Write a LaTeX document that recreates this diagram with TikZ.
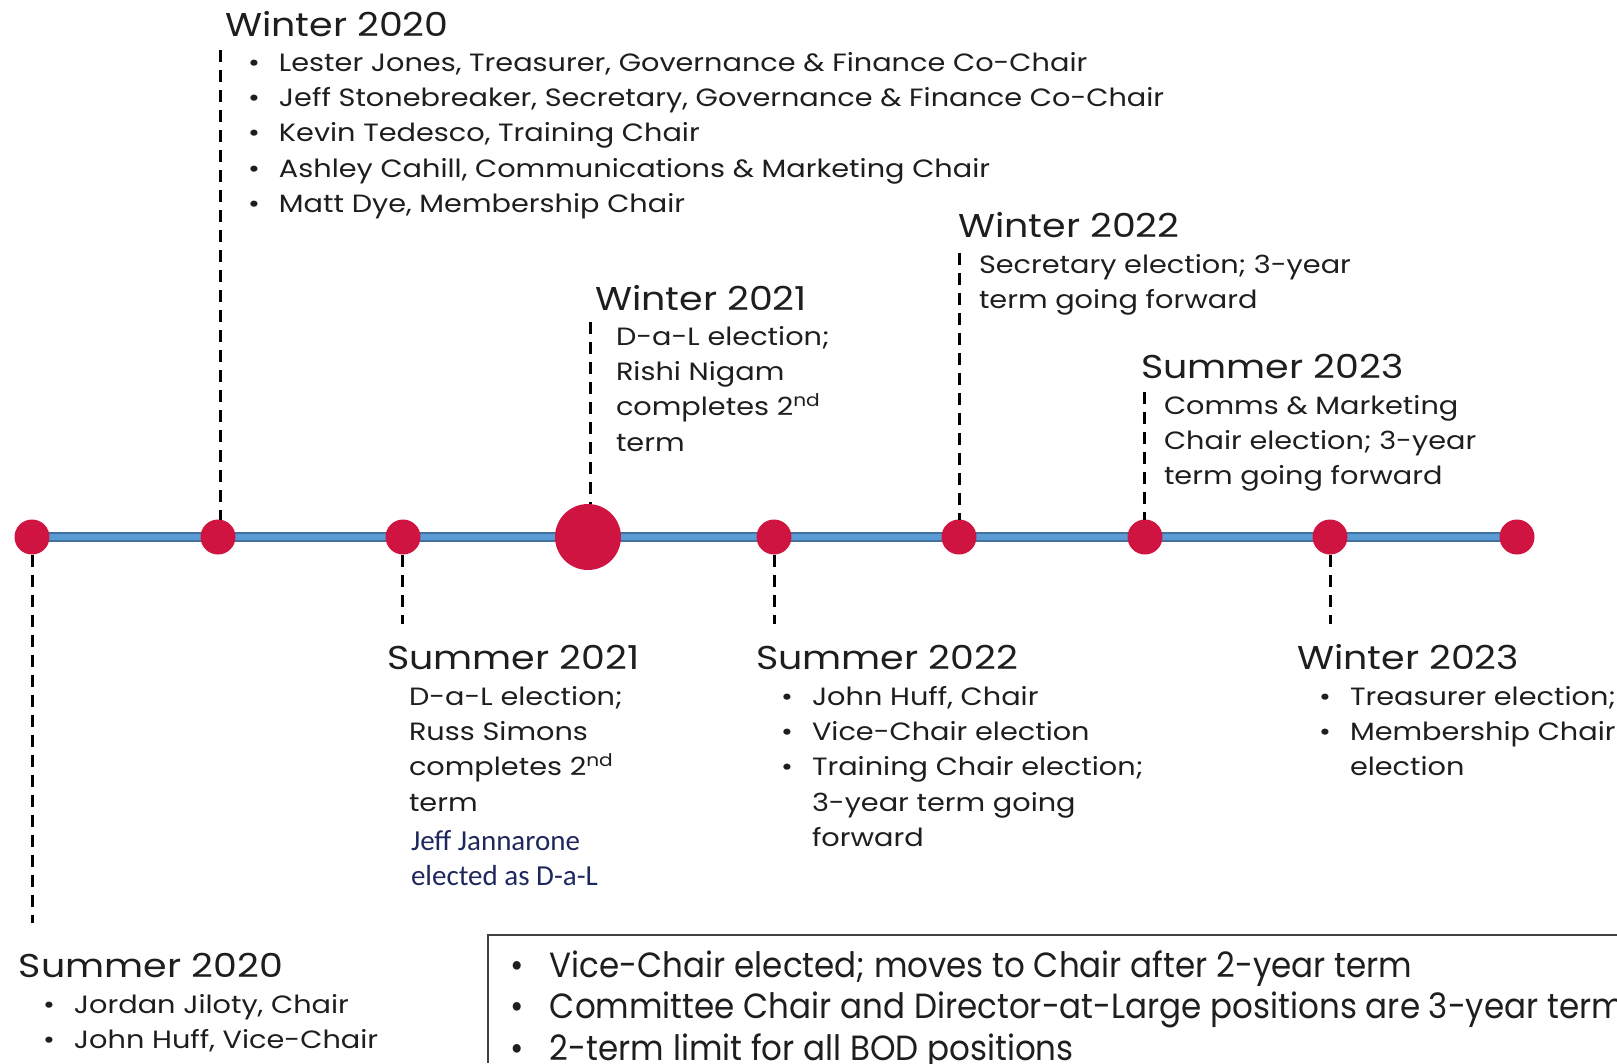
\documentclass[tikz,border=0pt]{standalone}
\usepackage{fontspec}
\setmainfont{Poppins}[FakeStretch=1.15]
\newfontfamily\boxfont[FakeStretch=0.93]{Poppins}
\newfontfamily\notefont{Carlito}
\usetikzlibrary{backgrounds}

\definecolor{ink}{RGB}{30,30,30}
\definecolor{dotred}{RGB}{208,20,66}
\definecolor{railfill}{RGB}{91,155,213}
\definecolor{railedge}{RGB}{65,113,156}
\definecolor{notenavy}{RGB}{31,40,94}
\definecolor{frame}{RGB}{64,64,64}

% bullet cells of fixed width
\newcommand\bl{\makebox[31pt][l]{•}}
\newcommand\nb{\hspace*{31pt}}
\newcommand\bbl{\makebox[40pt][l]{•}}

\begin{document}
\begin{tikzpicture}[x=1pt,y=-1pt,
  every node/.style={inner sep=0pt, outer sep=0pt, text=ink},
  heading/.style={anchor=base west, font=\fontsize{33}{40}\selectfont},
  body/.style={anchor=base west, font=\fontsize{25}{35.4}\selectfont},
  note/.style={anchor=base west, text=notenavy, font=\notefont\fontsize{29}{35.4}\selectfont},
  boxtext/.style={anchor=base west, font=\boxfont\fontsize{35}{41.5}\selectfont},
  dot/.style={circle, fill=dotred, minimum size=35pt},
  bigdot/.style={circle, fill=dotred, minimum size=66pt},
  guide/.style={draw=black, line width=3pt, dash pattern=on 12pt off 8pt},
]
\useasboundingbox (0,0) rectangle (1617,1063);

% timeline dots
\node[dot]    (d1) at (32,537)   {};
\node[dot]    (d2) at (218,537)  {};
\node[dot]    (d3) at (403,537)  {};
\node[bigdot] (d4) at (588,537)  {};
\node[dot]    (d5) at (774,537)  {};
\node[dot]    (d6) at (959,537)  {};
\node[dot]    (d7) at (1145,537) {};
\node[dot]    (d8) at (1330,537) {};
\node[dot]    (d9) at (1517,537) {};

% the rail behind the dots
\begin{pgfonlayer}{background}
  \draw[railedge, line width=10pt] (d1.center) -- (d9.center);
  \draw[railfill, line width=6.5pt] (d1.center) -- (d9.center);
\end{pgfonlayer}

% free ends of the dashed guides
\coordinate (g1) at (32,923);
\coordinate (g2) at (220,50);
\coordinate (g3) at (402,624);
\coordinate (g4) at (590,322);
\coordinate (g5) at (774,624);
\coordinate (g6) at (959,253);
\coordinate (g7) at (1144,392);
\coordinate (g8) at (1330,624);

\draw[guide] (g1 |- d1.south) -- (g1);
\draw[guide] (g2) -- (g2 |- d2.north);
\draw[guide] (g3 |- d3.south) -- (g3);
\draw[guide] (g4) -- (g4 |- d4.north);
\draw[guide] (g5 |- d5.south) -- (g5);
\draw[guide] (g6) -- (g6 |- d6.north);
\draw[guide] (g7) -- (g7 |- d7.north);
\draw[guide] (g8 |- d8.south) -- (g8);

% Summer 2020
\node[heading] (s20h) at (19,977) {Summer 2020};
\node[body] (s20b) at (43,1013) {\begin{tabular}[t]{@{}l@{}}
\bl Jordan Jiloty, Chair\\
\bl John Huff, Vice-Chair
\end{tabular}};

% Winter 2020
\node[heading] (w20h) at (225,36) {Winter 2020};
\node[body] (w20b) at (248,71) {\begin{tabular}[t]{@{}l@{}}
\bl Lester Jones, Treasurer, Governance \& Finance Co-Chair\\
\bl Jeff Stonebreaker, Secretary, Governance \& Finance Co-Chair\\
\bl Kevin Tedesco, Training Chair\\
\bl Ashley Cahill, Communications \& Marketing Chair\\
\bl Matt Dye, Membership Chair
\end{tabular}};

% Summer 2021
\node[heading] (s21h) at (387,669) {Summer 2021};
\node[body] (s21b) at (409,705) {\begin{tabular}[t]{@{}l@{}}
D-a-L election;\\
Russ Simons\\
completes 2\textsuperscript{nd}\\
term
\end{tabular}};
\node[note] (s21n) at (411,850) {\begin{tabular}[t]{@{}l@{}}
Jeff Jannarone\\
elected as D-a-L
\end{tabular}};

% Winter 2021
\node[heading] (w21h) at (595,310) {Winter 2021};
\node[body] (w21b) at (616,345) {\begin{tabular}[t]{@{}l@{}}
D-a-L election;\\
Rishi Nigam\\
completes 2\textsuperscript{nd}\\
term
\end{tabular}};

% Summer 2022
\node[heading] (s22h) at (756,669) {Summer 2022};
\node[body] (s22b) at (781,705) {\begin{tabular}[t]{@{}l@{}}
\bl John Huff, Chair\\
\bl Vice-Chair election\\
\bl Training Chair election;\\
\nb 3-year term going\\
\nb forward
\end{tabular}};

% Winter 2022
\node[heading] (w22h) at (958,237) {Winter 2022};
\node[body] (w22b) at (979,273) {\begin{tabular}[t]{@{}l@{}}
Secretary election; 3-year\\
term going forward
\end{tabular}};

% Summer 2023
\node[heading] (s23h) at (1141,378) {Summer 2023};
\node[body] (s23b) at (1164,414) {\begin{tabular}[t]{@{}l@{}}
Comms \& Marketing\\
Chair election; 3-year\\
term going forward
\end{tabular}};

% Winter 2023
\node[heading] (w23h) at (1297,669) {Winter 2023};
\node[body] (w23b) at (1319,705) {\begin{tabular}[t]{@{}l@{}}
\bl Treasurer election;\\
\bl Membership Chair\\
\nb election
\end{tabular}};

% term rules box, running off the right and bottom edges
\draw[frame, line width=1.8pt] (1617,935) -- (488,935) -- (488,1063);
\node[boxtext] (rules) at (510,977) {\begin{tabular}[t]{@{}l@{}}
\bbl Vice-Chair elected; moves to Chair after 2-year term\\
\bbl Committee Chair and Director-at-Large positions are 3-year term\\
\bbl 2-term limit for all BOD positions
\end{tabular}};
\end{tikzpicture}
\end{document}
